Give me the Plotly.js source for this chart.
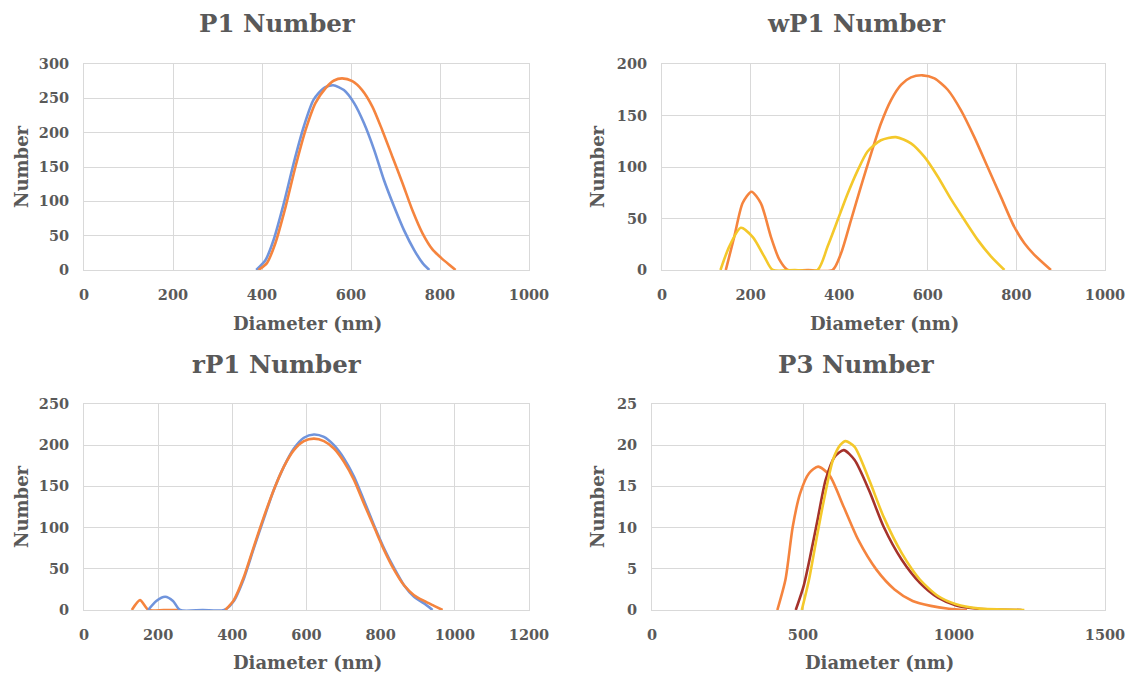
<!DOCTYPE html>
<html><head><meta charset="utf-8">
<script src="https://cdn.plot.ly/plotly-3.0.1.min.js"></script>
<style>html,body{margin:0;padding:0;background:#fff}#c{width:1136px;height:673px}</style>
</head><body><div id="c"></div>
<script>
// P1 Number
const p1BlueX = [387,408,426,449,471,494,516,539,560,584,607,629,652,674,697,719,742,761,776];
const p1BlueY = [0,14.6,43.7,97,155,209,248,265,269,262,243,214,175,131,92,58,29,10,0];
const p1OrangeX = [392,411,430,453,475,498,520,543,562,580,603,625,648,670,693,716,738,761,783,802,820,835];
const p1OrangeY = [0,10,39,92,150,204,243,265,276,279,275,262,238,204,165,126,87,53,30,18,8,0];
// wP1 Number
const wp1OrangeX = [144,163,182,202,223,246,265,284,330,385,404,427,449,472,494,517,540,562,588,615,645,675,705,735,765,795,818,840,878];
const wp1OrangeY = [0,32,65,76,65,32,10,0,0,0,16,49,81,113,142,165,180,187,189,186,175,155,129,100,71,42,26,15,0];
const wp1YellowX = [132,152,178,205,231,250,300,351,374,397,419,442,464,494,528,562,592,622,652,682,713,743,773];
const wp1YellowY = [0,23,41,32,13,0,0,0,23,49,74,97,115,126,129,123,110,91,69,49,29,13,0];
// rP1 Number
const rp1OrangeX = [129,151,174,215,254];
const rp1OrangeY = [0,12,0,0,0];
const rp1BlueX = [173,195,219,240,259,320,378,404,431,458,485,512,539,566,593,620,647,674,701,728,755,782,809,836,863,890,917,940];
const rp1BlueY = [0,11,16,11,0,0,0,11,38,75,111,146,174,196,209,213,210,200,184,162,133,103,75,51,30,16,8,0];
const rp1Orange2X = [381,404,431,458,485,512,539,566,593,620,647,674,701,728,755,782,809,836,863,890,917,944,967];
const rp1Orange2Y = [0,12,40,77,113,146,174,194,205,208,205,196,180,158,129,101,73,49,30,18,11,5,0];
// P3 Number
const p3OrangeX = [415,442,466,490,520,550,587,635,683,743,803,863,923,983,1043];
const p3OrangeY = [0,3.7,10.1,14.1,16.6,17.4,16.4,12.5,8.5,4.9,2.5,1.1,0.5,0.16,0];
const p3RedX = [476,502,526,550,575,605,635,671,719,767,827,887,947,1007,1079,1224];
const p3RedY = [0,2.9,6.9,11.3,15.8,18.6,19.4,18.2,14.5,10.1,6.1,3.3,1.5,0.56,0.16,0];
const p3YellowX = [496,520,544,569,599,623,641,671,719,767,827,887,947,1007,1079,1233];
const p3YellowY = [0,3.7,8.5,13.3,18.2,20,20.5,19.8,15.8,11.3,6.9,3.7,1.7,0.7,0.2,0];

const BLUE='#7094dc', ORANGE='#f5843e', YELLOW='#f4c82a', DRED='#a5322b';
const FONT='DejaVu Serif';
const GRAY='#595959', GRID='#d9d9d9';

function tr(x,y,c,xa,ya){return {x:x,y:y,type:'scatter',mode:'lines',line:{color:c,width:2.6,shape:'spline',smoothing:0.7},xaxis:xa,yaxis:ya,hoverinfo:'skip'};}
const data=[
 tr(p1BlueX,p1BlueY,BLUE,'x','y'), tr(p1OrangeX,p1OrangeY,ORANGE,'x','y'),
 tr(wp1OrangeX,wp1OrangeY,ORANGE,'x2','y2'), tr(wp1YellowX,wp1YellowY,YELLOW,'x2','y2'),
 tr(rp1OrangeX,rp1OrangeY,ORANGE,'x3','y3'), tr(rp1BlueX,rp1BlueY,BLUE,'x3','y3'), tr(rp1Orange2X,rp1Orange2Y,ORANGE,'x3','y3'),
 tr(p3OrangeX,p3OrangeY,ORANGE,'x4','y4'), tr(p3RedX,p3RedY,DRED,'x4','y4'), tr(p3YellowX,p3YellowY,YELLOW,'x4','y4')
];
const W=1136,H=673;
function ax(domPx,range,dtick,anchor,isY){
  const d = isY ? [1-domPx[1]/H, 1-domPx[0]/H] : [domPx[0]/W, domPx[1]/W];
  return {domain:d,range:range,dtick:dtick,tick0:0,anchor:anchor,showgrid:true,gridcolor:GRID,gridwidth:1,
    zeroline:false,showline:true,linecolor:GRID,linewidth:1,mirror:true,ticks:'',fixedrange:true,
    tickfont:{family:FONT,size:14.5,color:GRAY,weight:'bold'},ticklen:0,automargin:false,
    ticklabelstandoff: isY ? 11 : 12};
}
const layout={width:W,height:H,margin:{l:0,r:0,t:0,b:0},showlegend:false,paper_bgcolor:'#fff',plot_bgcolor:'#fff',
 xaxis:ax([84,529],[0,1000],200,'y'), yaxis:ax([64,270],[0,300],50,'x',true),
 xaxis2:ax([662,1105],[0,1000],200,'y2'), yaxis2:ax([64,270],[0,200],50,'x2',true),
 xaxis3:ax([84,529],[0,1200],200,'y3'), yaxis3:ax([404,610],[0,250],50,'x3',true),
 xaxis4:ax([652,1105],[0,1500],500,'y4'), yaxis4:ax([404,610],[0,25],5,'x4',true),
 annotations:[]
};
function ann(text,xpx,ypx,size,rot){
  layout.annotations.push({text:text,xref:'paper',yref:'paper',x:xpx/W,y:1-ypx/H,xanchor:'center',yanchor:'middle',showarrow:false,
   textangle:rot||0,font:{family:FONT,size:size,color:GRAY,weight:'bold'}});
}
ann('P1 Number',277,24,24.5); ann('wP1 Number',856,24,24.5); ann('rP1 Number',277,364,24.5); ann('P3 Number',856,364,24.5);
ann('Diameter (nm)',307,323,18); ann('Diameter (nm)',884,323,18); ann('Diameter (nm)',307,662,18); ann('Diameter (nm)',879,662,18);
ann('Number',21,167,18,-90); ann('Number',597,167,18,-90); ann('Number',21,507,18,-90); ann('Number',597,507,18,-90);
Plotly.newPlot('c',data,layout,{staticPlot:true,displayModeBar:false});
</script></body></html>
